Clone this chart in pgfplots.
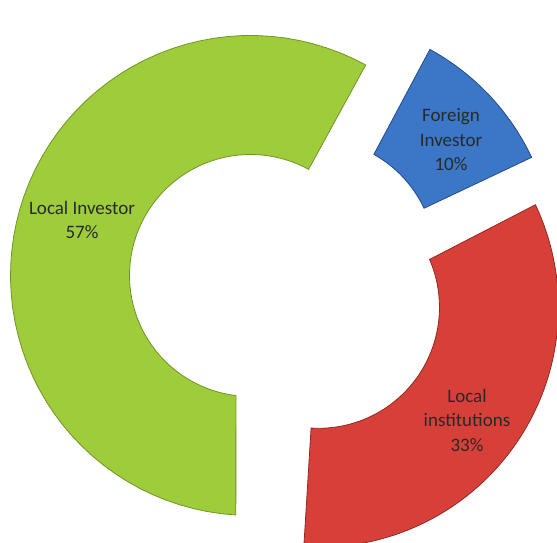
\documentclass[border=0pt]{standalone}
\usepackage{fontspec}
\setmainfont{Carlito}
\usepackage{pgfplots}
\pgfplotsset{compat=1.18}

\definecolor{cGreen}{RGB}{158,204,59}
\definecolor{cGreenD}{RGB}{110,150,35}
\definecolor{cRed}{RGB}{214,64,57}
\definecolor{cRedD}{RGB}{150,40,35}
\definecolor{cBlue}{RGB}{60,118,198}
\definecolor{cBlueD}{RGB}{35,75,140}
\definecolor{cText}{RGB}{40,42,40}

% shares in percent
\def\vInst{33}
\def\vForeign{10}
\def\vLocal{57}

% ring geometry (axis units = px)
\def\cx{287}
\def\cy{256}
\def\Ro{240}
\def\Ri{121}
\def\expl{38}
\def\startang{-93.5}

\pgfmathsetmacro\aA{\startang}
\pgfmathsetmacro\aB{\aA+3.6*\vInst}
\pgfmathsetmacro\aC{\aB+3.6*\vForeign}
\pgfmathsetmacro\aD{\aC+3.6*\vLocal}

% one exploded ring segment from angle #1 to #2
\newcommand\seg[3]{%
  \pgfmathsetmacro\mid{(#1+#2)/2}%
  \pgfmathsetmacro\ox{\cx+\expl*cos(\mid)}%
  \pgfmathsetmacro\oy{\cy+\expl*sin(\mid)}%
  \addplot[#3, line width=0.8pt, domain=0:3, samples=181, variable=\t]
    ({\ox + (\t<=1 ? \Ro : (\t<=2 ? \Ri : \Ri+(\Ro-\Ri)*(\t-2)))
       *cos(\t<=1 ? #1+(#2-#1)*\t : (\t<=2 ? #2-(#2-#1)*(\t-1) : #1))},
     {\oy + (\t<=1 ? \Ro : (\t<=2 ? \Ri : \Ri+(\Ro-\Ri)*(\t-2)))
       *sin(\t<=1 ? #1+(#2-#1)*\t : (\t<=2 ? #2-(#2-#1)*(\t-1) : #1))});
}

\tikzset{lbl/.style={font=\fontsize{19}{24.5}\selectfont, text=cText, align=center}}

\begin{document}
\begin{tikzpicture}
\begin{axis}[x=1pt, y=1pt, xmin=0, xmax=557, ymin=0, ymax=542,
  hide axis, clip=true]
  \seg{\aA}{\aB}{fill=cRed, draw=cRedD}
  \seg{\aB}{\aC}{fill=cBlue, draw=cBlueD}
  \seg{\aC}{\aD}{fill=cGreen, draw=cGreenD}
  \node[lbl] at (axis cs:82,322) {Local Investor\\57\%};
  \node[lbl] at (axis cs:451,402) {Foreign\\Investor\\10\%};
  \node[lbl] at (axis cs:467,122) {Local\\institutions\\33\%};
\end{axis}
\pgfresetboundingbox
\path (current axis.south west) rectangle (current axis.north east);
\end{tikzpicture}
\end{document}
